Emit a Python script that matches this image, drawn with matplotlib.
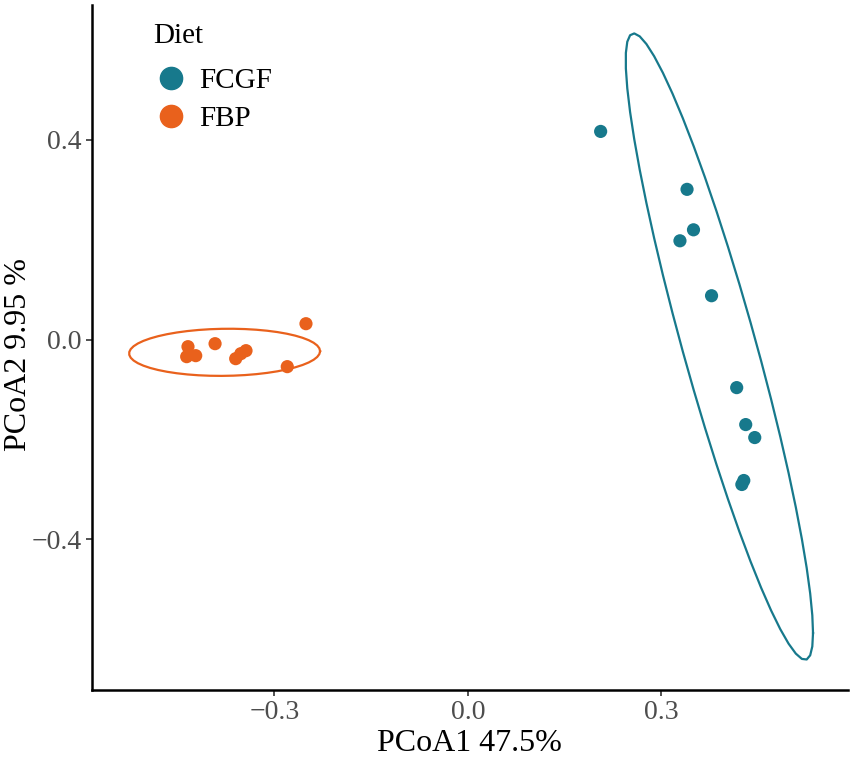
import numpy as np
import matplotlib
matplotlib.use("Agg")
import matplotlib.pyplot as plt
from matplotlib.lines import Line2D

plt.rcParams['font.family'] = ['Liberation Serif', 'DejaVu Serif']

# PCoA scores
fcgf_x = [0.206, 0.340, 0.350, 0.329, 0.378, 0.417, 0.431, 0.445, 0.425, 0.428]
fcgf_y = [0.417, 0.301, 0.220, 0.198, 0.088, -0.096, -0.170, -0.196, -0.290, -0.282]
fbp_x = [-0.251, -0.434, -0.436, -0.422, -0.392, -0.360, -0.352, -0.344, -0.280]
fbp_y = [0.032, -0.014, -0.034, -0.032, -0.008, -0.038, -0.028, -0.022, -0.054]

groups = ["FCGF", "FBP"]
colors = {"FCGF": "#17798c", "FBP": "#e9611c"}

x_ticks = [-0.3, 0.0, 0.3]
y_ticks = [-0.4, 0.0, 0.4]


def cov_trob(pts, nu=5, maxit=25, tol=0.01):
    # multivariate t estimate, same as MASS::cov.trob
    n, p = pts.shape
    loc = pts.mean(axis=0)
    w = np.ones(n)
    for _ in range(maxit):
        w0 = w
        X = pts - loc
        _, d, vt = np.linalg.svd(np.sqrt(w / w.sum())[:, None] * X, full_matrices=False)
        wX = X @ vt.T @ np.diag(1 / d)
        Q = (wX ** 2).sum(axis=1)
        w = (nu + p) / (nu + Q)
        loc = (w[:, None] * pts).sum(axis=0) / w.sum()
        if np.all(np.abs(w - w0) < tol):
            break
    X = pts - loc
    cov = (np.sqrt(w)[:, None] * X).T @ (np.sqrt(w)[:, None] * X) / n
    return loc, cov


# F(0.95; 2, n-1) quantiles for n = 10 and n = 9
f95 = {10: 4.256495, 9: 4.458970}


def ellipse_path(xs, ys):
    pts = np.column_stack([xs, ys])
    loc, cov = cov_trob(pts)
    radius = np.sqrt(2 * f95[len(xs)])
    ang = np.linspace(0, 2 * np.pi, 52)
    circ = np.column_stack([np.cos(ang), np.sin(ang)])
    chol = np.linalg.cholesky(cov).T
    e = loc + radius * circ @ chol
    return e[:, 0], e[:, 1]


fig = plt.figure(figsize=(8.51, 7.63), dpi=100)
ax = fig.add_axes([0.108, 0.096, 0.888, 0.898])

data = {"FCGF": (fcgf_x, fcgf_y), "FBP": (fbp_x, fbp_y)}
for g in groups:
    xs, ys = data[g]
    ex, ey = ellipse_path(xs, ys)
    ax.plot(ex, ey, color=colors[g], lw=1.6)
    ax.scatter(xs, ys, s=90, color=colors[g], edgecolors='none', zorder=3)

ax.set_xlim(-0.583, 0.589)
ax.set_ylim(-0.701, 0.671)
ax.set_xticks(x_ticks)
ax.set_yticks(y_ticks)
ax.set_xticklabels(["\u22120.3", "0.0", "0.3"])
ax.set_yticklabels(["\u22120.4", "0.0", "0.4"])
ax.tick_params(labelsize=20, labelcolor='#4d4d4d', length=4, width=1.2, color='#333333')
for s in ['top', 'right']:
    ax.spines[s].set_visible(False)
for s in ['left', 'bottom']:
    ax.spines[s].set_linewidth(1.8)

ax.set_xlabel("PCoA1 47.5%", fontsize=23, labelpad=3)
ax.set_ylabel("PCoA2 9.95 %", fontsize=23)
ax.yaxis.label.set_va('center')
ax.yaxis.set_label_coords(-0.097, 0.49)

handles = [Line2D([], [], marker='o', ls='', color=colors[g], markersize=16) for g in groups]
leg = ax.legend(handles, groups, title="Diet", loc='upper left', bbox_to_anchor=(0.047, 1.012),
                frameon=False, fontsize=21, title_fontsize=21, handletextpad=0.35,
                labelspacing=0.38, handlelength=1.2)
leg._legend_box.align = "left"
leg._legend_box.sep = 14

fig.savefig("out.png", dpi=100)
